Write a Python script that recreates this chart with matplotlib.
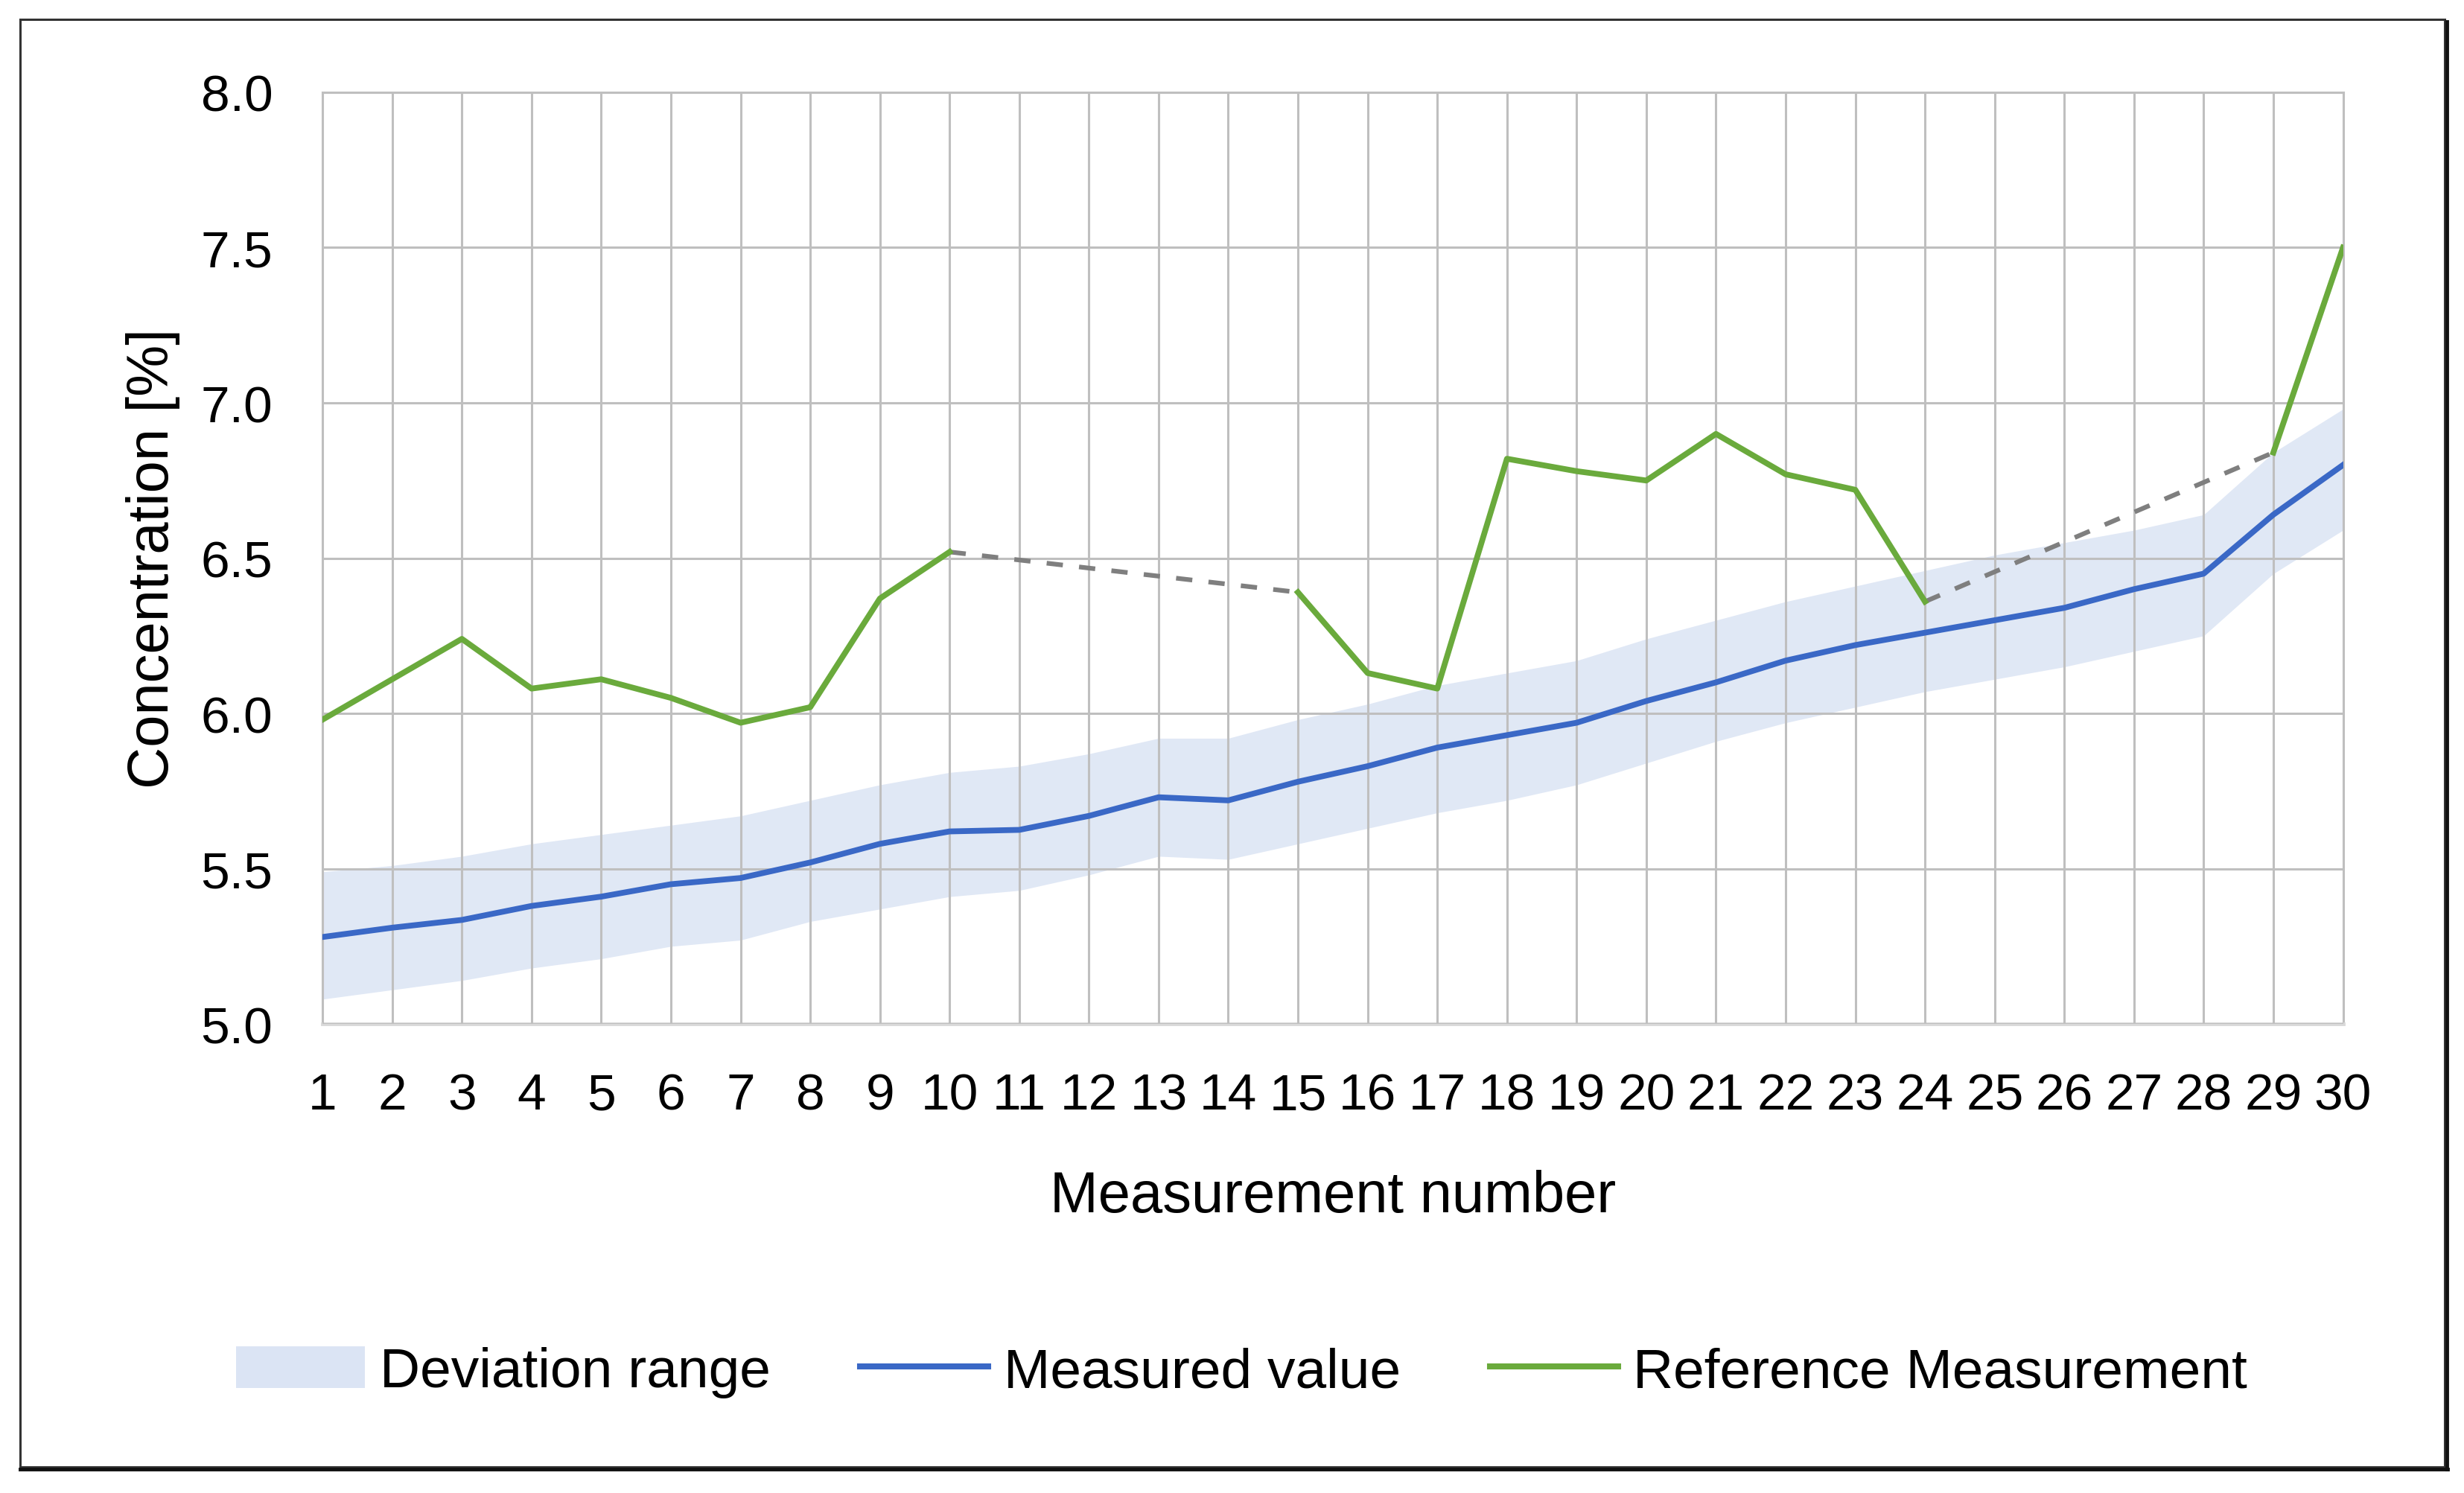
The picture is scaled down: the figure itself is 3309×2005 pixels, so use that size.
import numpy as np
import matplotlib
matplotlib.use("Agg")
import matplotlib.pyplot as plt
from matplotlib.patches import Patch, Rectangle
from matplotlib.lines import Line2D

plt.rcParams['font.family'] = ['Liberation Sans', 'DejaVu Sans']

# measurement numbers 1..30
measurement = list(range(1, 31))

measured = [5.28, 5.31, 5.335, 5.38, 5.41, 5.45, 5.47, 5.52, 5.58, 5.62,
            5.625, 5.67, 5.73, 5.72, 5.78, 5.83, 5.89, 5.93, 5.97, 6.04,
            6.10, 6.17, 6.22, 6.26, 6.30, 6.34, 6.40, 6.45, 6.64, 6.80]

dev_upper = [5.49, 5.51, 5.54, 5.58, 5.61, 5.64, 5.67, 5.72, 5.77, 5.81,
             5.83, 5.87, 5.92, 5.92, 5.98, 6.03, 6.09, 6.13, 6.17, 6.24,
             6.30, 6.36, 6.41, 6.46, 6.51, 6.55, 6.59, 6.64, 6.84, 6.98]

dev_lower = [5.08, 5.11, 5.14, 5.18, 5.21, 5.25, 5.27, 5.33, 5.37, 5.41,
             5.43, 5.48, 5.54, 5.53, 5.58, 5.63, 5.68, 5.72, 5.77, 5.84,
             5.91, 5.97, 6.02, 6.07, 6.11, 6.15, 6.20, 6.25, 6.45, 6.59]

# reference measurement, None where no value was taken
reference = [5.98, 6.11, 6.24, 6.08, 6.11, 6.05, 5.97, 6.02, 6.37, 6.52,
             None, None, None, None, 6.39, 6.13, 6.08, 6.82, 6.78, 6.75,
             6.90, 6.77, 6.72, 6.36, None, None, None, None, 6.84, 7.50]

y_ticks = [5.0, 5.5, 6.0, 6.5, 7.0, 7.5, 8.0]

BLUE = '#3a68c6'
GREEN = '#6aaa3c'
BAND = '#dbe4f4'
GRID = '#bfbfbf'

x = np.array(measurement)
ref = np.array([np.nan if v is None else v for v in reference])

fig = plt.figure(figsize=(33.09, 20.06), dpi=100)
ax = fig.add_axes([0.1309, 0.314, 0.8200, 0.6237])

ax.fill_between(x, dev_lower, dev_upper, color=BAND, alpha=0.85, lw=0, zorder=1)
ax.plot(x, measured, color=BLUE, lw=5.6, zorder=4)
ax.plot(x, ref, color=GREEN, lw=5.6, zorder=4)

# dashed bridge over the gaps of the reference series
valid = np.where(~np.isnan(ref))[0]
for a, b in zip(valid[:-1], valid[1:]):
    if b - a > 1:
        ax.plot([x[a], x[b]], [ref[a], ref[b]], color='#7f7f7f', lw=4.5,
                ls=(0, (3.5, 3.5)), zorder=3)

ax.set_xlim(1, 30)
ax.set_ylim(5.0, 8.0)
ax.set_xticks(measurement)
ax.set_yticks(y_ticks)
ax.set_yticklabels([f'{v:.1f}' for v in y_ticks])
ax.grid(True, color=GRID, lw=2.2, zorder=2)
ax.set_axisbelow(False)
for s in ax.spines.values():
    s.set_color(GRID)
    s.set_linewidth(2.2)
ax.spines['bottom'].set_color('#d9d9d9')
ax.spines['bottom'].set_linewidth(3.5)
ax.tick_params(length=0, labelsize=50)
ax.tick_params(axis='x', pad=46)
ax.tick_params(axis='y', pad=48)

ax.set_xlabel('Measurement number', fontsize=56, labelpad=48)
ax.set_ylabel('Concentration [%]', fontsize=56, labelpad=20)

handles = [Patch(facecolor=BAND, edgecolor='none'),
           Line2D([], [], color=BLUE, lw=5.8),
           Line2D([], [], color=GREEN, lw=5.8)]
fig.legend(handles, ['Deviation range', 'Measured value', 'Reference Measurement'],
           loc='center', bbox_to_anchor=(0.504, 0.081), ncol=3, frameon=False,
           fontsize=54, handlelength=2.3, handleheight=0.78,
           handletextpad=0.27, columnspacing=1.6)

# outer frame with a small shadow on right and bottom
W, H = 3309, 2006
fig.patches.append(Rectangle((27 / W, 1 - 1971 / H), (3283 - 27) / W, (1971 - 27) / H,
                             transform=fig.transFigure, fill=False,
                             edgecolor='#333333', lw=2.2))
fig.lines.append(Line2D([27 / W, 3287 / W], [1 - 1974 / H, 1 - 1974 / H],
                        transform=fig.transFigure, color='#111111', lw=3.5))
fig.lines.append(Line2D([3286 / W, 3286 / W], [1 - 30 / H, 1 - 1974 / H],
                        transform=fig.transFigure, color='#111111', lw=3.5))

fig.savefig('out.png', dpi=100, facecolor='white')
